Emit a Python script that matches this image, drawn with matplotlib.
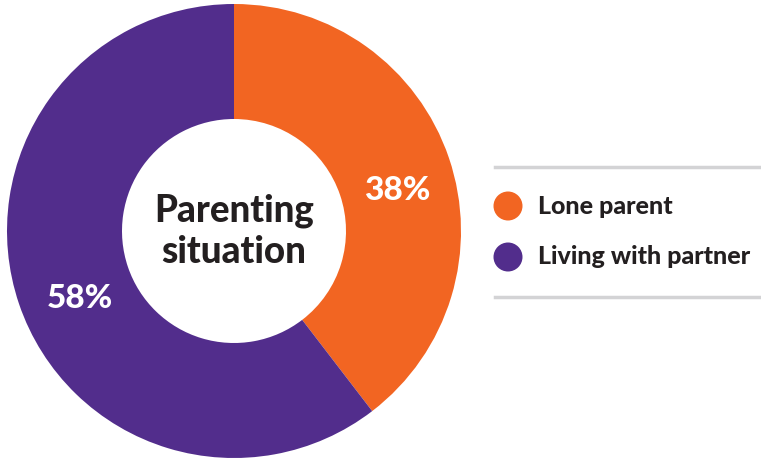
import matplotlib
matplotlib.use("Agg")
import matplotlib.pyplot as plt
from matplotlib.patches import Circle
from matplotlib.lines import Line2D

categories = ["Lone parent", "Living with partner"]
values = [38, 58]
colors = ["#F26522", "#522D8C"]
center_title = "Parenting\nsituation"

W, H = 761, 462
fig = plt.figure(figsize=(W / 100, H / 100), dpi=100)
ax = fig.add_axes([0, 0, 1, 1])
ax.set_xlim(0, W)
ax.set_ylim(0, H)
ax.axis("off")

FONT = "Lato"
WEIGHT = 900
TXT = "#231F20"

cx, cy, R, r_in = 234, 231, 227, 112
wedges, _ = ax.pie(values, colors=colors, startangle=90, counterclock=False,
                   center=(cx, cy), radius=R,
                   wedgeprops=dict(width=R - r_in, linewidth=0))
ax.set_xlim(0, W)
ax.set_ylim(0, H)
ax.set_aspect("equal")

ax.text(cx, cy, center_title, ha="center", va="center", fontsize=26.5,
        fontweight=WEIGHT, family=FONT, color=TXT, linespacing=1.25)

label_pos = [(397, H - 190), (80, H - 298)]
for (x, y), v in zip(label_pos, values):
    ax.text(x, y, f"{v}%", ha="center", va="center", fontsize=24,
            fontweight=WEIGHT, family=FONT, color="white")

# legend block with rules above and below
for y in (H - 167, H - 297):
    ax.add_line(Line2D([495, 761], [y, y], color="#D3D3D5", linewidth=2.5))
for i, (lab, c) in enumerate(zip(categories, colors)):
    y = H - (206 + i * 51)
    ax.add_patch(Circle((508, y), 14.5, color=c, linewidth=0))
    ax.text(538, y, lab, ha="left", va="center", fontsize=18,
            fontweight=WEIGHT, family=FONT, color=TXT)

fig.savefig("out.png", dpi=100)
